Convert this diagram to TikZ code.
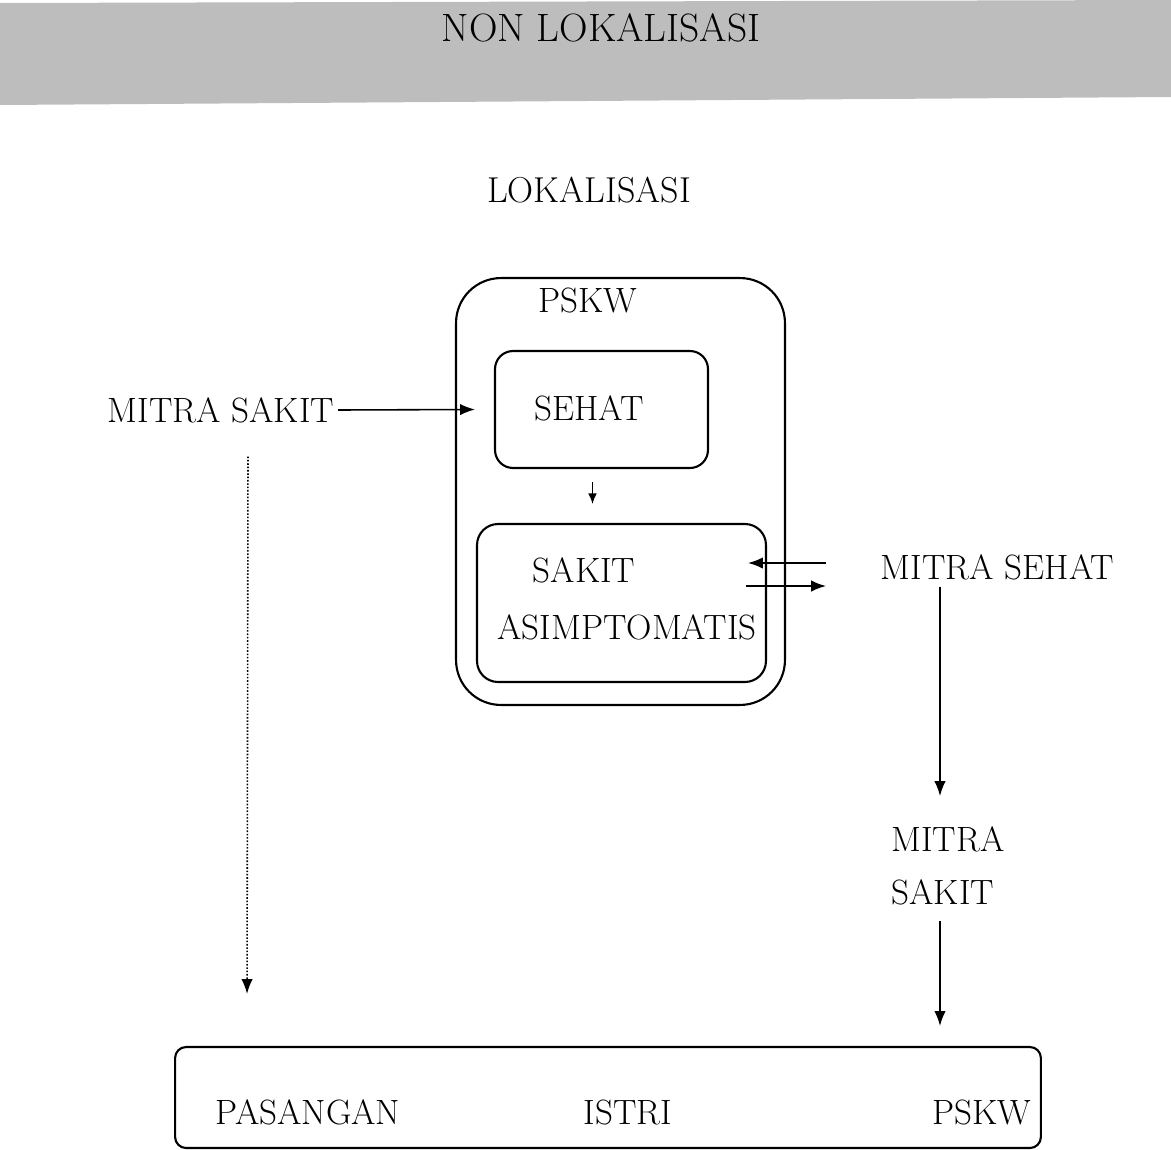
\documentclass[tikz,border=0pt]{standalone}
\usepackage{tikz}
\usetikzlibrary{positioning,arrows.meta,calc}

\begin{document}
\begin{tikzpicture}[
    x=0.02cm, y=-0.02cm,
    font=\fontsize{20}{24}\selectfont, >={Latex[length=8.5pt,width=6.5pt]},
    box/.style   ={draw, line width=1.2pt, inner sep=0pt},
    lbl/.style   ={inner sep=2pt, align=left},
    arr/.style   ={->, line width=0.9pt},
    dotarr/.style={->, densely dotted, line width=0.9pt}
]
\useasboundingbox (0,0) rectangle (1171,1150);

% --- Banner ---
\fill[gray!52] (0,3) -- (1171,0) -- (1171,97) -- (0,105) -- cycle;
\node[lbl, font=\fontsize{22.5}{26}\selectfont] (nonlok) at (601,28) {NON LOKALISASI};
\node[lbl, font=\fontsize{20.5}{24}\selectfont] (lok) at (589,190) {LOKALISASI};

% --- PSKW and its states ---
\node[box, rounded corners=0.9cm, minimum width=6.58cm, minimum height=8.54cm] (pskw) at (620.5,491.5) {};
\node[lbl] (pskwlbl) at (588,300) {PSKW};
\node[box, rounded corners=0.36cm, minimum width=4.26cm, minimum height=2.34cm] (sehatbox) at (601.5,409.5) {};
\node[lbl] (sehat) at (589,408) {SEHAT};
\node[box, rounded corners=0.42cm, minimum width=5.78cm, minimum height=3.16cm] (sakitbox) at (621.5,603) {};
\node[lbl] (sakit) at (584,570) {SAKIT};
\node[lbl] (asimp) at (627,627) {ASIMPTOMATIS};

% --- Partners ---
\node[lbl] (mitrasakit) at (221,410) {MITRA SAKIT};
\node[lbl] (mitrasehat) at (997.5,567) {MITRA SEHAT};
\node[lbl] (mitrasakitb) at (948,866) {MITRA\\[6pt]SAKIT};

% --- Bottom group ---
\node[box, rounded corners=0.22cm, minimum width=17.32cm, minimum height=2.02cm] (target) at (608,1097.5) {};
\node[lbl] (pasangan) at (308,1112) {PASANGAN};
\node[lbl] (istri) at (628,1112) {ISTRI};
\node[lbl] (pskwb) at (982,1112) {PSKW};

% --- Arrows ---
\draw[arr] (mitrasakit.east) -- ($(sehatbox.west)+(-19,0)$);
\draw[arr, >={Latex[length=6pt,width=5pt]}] ($(sehatbox.south)+(-9,13)$) -- ($(sakitbox.north)+(-29,-19)$);
\draw[arr] ($(sakitbox.east)+(59,-40)$) -- ($(sakitbox.east)+(-19,-40)$);
\draw[arr] ($(sakitbox.east)+(-21,-17)$) -- ($(sakitbox.east)+(59,-17)$);
\draw[arr] ($(mitrasehat.south)+(-57.5,3)$) -- ($(mitrasakitb.north)+(-8,-27)$);
\draw[arr] ($(mitrasakitb.south)+(-8,12)$) -- ($(target.north)+(332,-20)$);
\draw[dotarr] ($(mitrasakit.south)+(27,30)$) -- ($(target.north west)+(73,-52)$);

\end{tikzpicture}
\end{document}
